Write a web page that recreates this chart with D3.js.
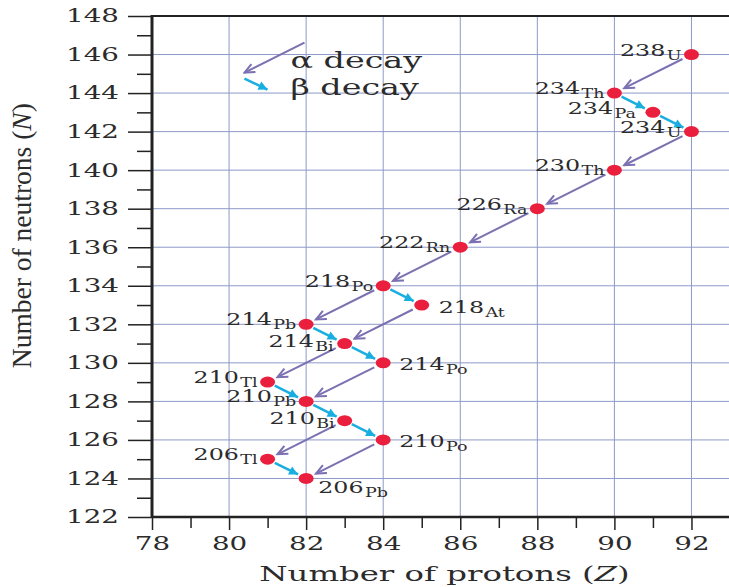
<html>
<head>
  <script src="https://d3js.org/d3.v7.min.js"></script>
  <style>
    body {
      background-color: white;
      margin: 0;
      padding: 0;
      overflow: hidden;
    }
    svg {
      display: block;
    }
  </style>
</head>
<body>
  <svg width="729" height="587"></svg>

  <script>
    // isotopes in the U-238 chain: [mass, symbol, Z, N]
    const isotopes = [
      ["238", "U", 92, 146],
      ["234", "Th", 90, 144],
      ["234", "Pa", 91, 143],
      ["234", "U", 92, 142],
      ["230", "Th", 90, 140],
      ["226", "Ra", 88, 138],
      ["222", "Rn", 86, 136],
      ["218", "Po", 84, 134],
      ["218", "At", 85, 133],
      ["214", "Pb", 82, 132],
      ["214", "Bi", 83, 131],
      ["214", "Po", 84, 130],
      ["210", "Tl", 81, 129],
      ["210", "Pb", 82, 128],
      ["210", "Bi", 83, 127],
      ["210", "Po", 84, 126],
      ["206", "Tl", 81, 125],
      ["206", "Pb", 82, 124]
    ];

    // decays, parent -> daughter
    const alphaDecays = [
      ["238U", "234Th"], ["234U", "230Th"], ["230Th", "226Ra"],
      ["226Ra", "222Rn"], ["222Rn", "218Po"], ["218Po", "214Pb"],
      ["218At", "214Bi"], ["214Bi", "210Tl"], ["214Po", "210Pb"],
      ["210Bi", "206Tl"], ["210Po", "206Pb"]
    ];
    const betaDecays = [
      ["234Th", "234Pa"], ["234Pa", "234U"], ["218Po", "218At"],
      ["214Pb", "214Bi"], ["214Bi", "214Po"], ["210Tl", "210Pb"],
      ["210Pb", "210Bi"], ["210Bi", "210Po"], ["206Tl", "206Pb"]
    ];

    const xTicks = [78, 80, 82, 84, 86, 88, 90, 92];
    const yTicks = [122, 124, 126, 128, 130, 132, 134, 136, 138, 140, 142, 144, 146, 148];

    const svg = d3.select("svg");
    const W = 729;
    const textColor = "#2b2b2b";
    const gridColor = "#8f99c9";
    const alphaColor = "#7b70b2";
    const betaColor = "#19aee0";
    const dotColor = "#ea1f3d";
    const serif = "'DejaVu Serif', serif";

    const x = d3.scaleLinear().domain([78, 93]).range([152, 730]);
    const y = d3.scaleLinear().domain([122, 148]).range([517, 16]);

    const byKey = new Map(isotopes.map(d => [d[0] + d[1], d]));

    // grid
    svg.append("g").selectAll("line")
      .data(xTicks.filter(v => v > 78))
      .enter().append("line")
      .attr("x1", d => x(d)).attr("x2", d => x(d))
      .attr("y1", y(122)).attr("y2", y(148))
      .attr("stroke", gridColor).attr("stroke-width", 1);

    svg.append("g").selectAll("line")
      .data(yTicks.filter(v => v > 122 && v < 148))
      .enter().append("line")
      .attr("x1", x(78)).attr("x2", W)
      .attr("y1", d => y(d)).attr("y2", d => y(d))
      .attr("stroke", gridColor).attr("stroke-width", 1);

    // top border
    svg.append("line")
      .attr("x1", x(78)).attr("x2", W)
      .attr("y1", y(148)).attr("y2", y(148))
      .attr("stroke", "#222").attr("stroke-width", 2);

    // axes: minor ticks every 1, major every 2
    function styleAxis(g) {
      g.select(".domain").remove();
      g.selectAll(".tick line").attr("stroke", "#222").attr("stroke-width", 1.5);
      g.selectAll("text").attr("fill", textColor)
        .style("font-family", serif).style("font-size", "18.5px");
    }

    svg.append("g")
      .attr("transform", "translate(" + x(78) + ",0)")
      .call(d3.axisLeft(y).tickValues(d3.range(123, 148, 2)).tickSize(15).tickFormat(""))
      .call(styleAxis);

    const yAx = svg.append("g")
      .attr("transform", "translate(" + x(78) + ",0)")
      .call(d3.axisLeft(y).tickValues(yTicks).tickSize(24).tickPadding(10))
      .call(styleAxis);
    yAx.selectAll("text")
      .attr("x", null)
      .attr("transform", "translate(-33,0) scale(1.5,1)");

    svg.append("g")
      .attr("transform", "translate(0," + y(122) + ")")
      .call(d3.axisBottom(x).tickValues(d3.range(79, 93, 2)).tickSize(11).tickFormat(""))
      .call(styleAxis);

    const xAx = svg.append("g")
      .attr("transform", "translate(0," + y(122) + ")")
      .call(d3.axisBottom(x).tickValues(xTicks).tickSize(13))
      .call(styleAxis);
    xAx.selectAll("text")
      .attr("y", null).attr("dy", null)
      .attr("transform", "translate(0,33) scale(1.5,1)");

    svg.append("line")
      .attr("x1", x(78)).attr("x2", W)
      .attr("y1", y(122)).attr("y2", y(122))
      .attr("stroke", "#222").attr("stroke-width", 2.5);
    svg.append("line")
      .attr("x1", x(78)).attr("x2", x(78))
      .attr("y1", y(122) + 1).attr("y2", y(148) - 1)
      .attr("stroke", "#222").attr("stroke-width", 3);

    // axis titles
    const xTitle = svg.append("text")
      .attr("transform", "translate(" + ((x(78) + W) / 2 + 4) + ",581) scale(1.54,1)")
      .attr("text-anchor", "middle")
      .attr("fill", textColor)
      .style("font-family", serif).style("font-size", "21px");
    xTitle.append("tspan").text("Number of protons (");
    xTitle.append("tspan").style("font-style", "italic").text("Z");
    xTitle.append("tspan").text(")");

    const yTitle = svg.append("text")
      .attr("transform", "translate(31," + y(136.6) + ") rotate(-90)")
      .attr("text-anchor", "middle")
      .attr("fill", textColor)
      .style("font-family", "'Liberation Serif', serif").style("font-size", "27.5px");
    yTitle.append("tspan").text("Number of neutrons (");
    yTitle.append("tspan").style("font-style", "italic").text("N");
    yTitle.append("tspan").text(")");

    // arrow markers
    const defs = svg.append("defs");
    defs.append("marker")
      .attr("id", "headA")
      .attr("viewBox", "-12 -6 14 12")
      .attr("markerUnits", "userSpaceOnUse")
      .attr("markerWidth", 14).attr("markerHeight", 12)
      .attr("refX", 0).attr("refY", 0)
      .attr("orient", "auto")
      .append("path")
      .attr("d", "M-10,-4.5L0,0L-10,4.5")
      .attr("fill", "none").attr("stroke", alphaColor).attr("stroke-width", 2);
    defs.append("marker")
      .attr("id", "headB")
      .attr("viewBox", "-10 -5 11 10")
      .attr("markerUnits", "userSpaceOnUse")
      .attr("markerWidth", 11).attr("markerHeight", 10)
      .attr("refX", 0).attr("refY", 0)
      .attr("orient", "auto")
      .append("path")
      .attr("d", "M-9,-4.5L0,0L-9,4.5Z")
      .attr("fill", betaColor);

    function arrowPoints(pair, startGap, endGap) {
      const a = byKey.get(pair[0]), b = byKey.get(pair[1]);
      const x1 = x(a[2]), y1 = y(a[3]), x2 = x(b[2]), y2 = y(b[3]);
      const len = Math.hypot(x2 - x1, y2 - y1);
      const ux = (x2 - x1) / len, uy = (y2 - y1) / len;
      return [x1 + ux * startGap, y1 + uy * startGap, x2 - ux * endGap, y2 - uy * endGap];
    }

    svg.append("g").selectAll("line")
      .data(alphaDecays)
      .enter().append("line")
      .each(function (d) {
        const p = arrowPoints(d, 10, 11);
        d3.select(this).attr("x1", p[0]).attr("y1", p[1]).attr("x2", p[2]).attr("y2", p[3]);
      })
      .attr("stroke", alphaColor).attr("stroke-width", 2)
      .attr("marker-end", "url(#headA)");

    svg.append("g").selectAll("line")
      .data(betaDecays)
      .enter().append("line")
      .each(function (d) {
        const p = arrowPoints(d, 8, 9);
        d3.select(this).attr("x1", p[0]).attr("y1", p[1]).attr("x2", p[2]).attr("y2", p[3]);
      })
      .attr("stroke", betaColor).attr("stroke-width", 2.5)
      .attr("marker-end", "url(#headB)");

    // dots
    svg.append("g").selectAll("ellipse")
      .data(isotopes)
      .enter().append("ellipse")
      .attr("cx", d => x(d[2])).attr("cy", d => y(d[3]))
      .attr("rx", 7.5).attr("ry", 5.5)
      .attr("fill", dotColor);

    // labels: most sit left of the dot, a few to the right
    const rightLabels = { "218At": [17, 8], "214Po": [16, 7], "210Po": [16, 7], "206Pb": [12, 15] };
    const leftShift = { "234Pa": [-17, 2], "214Bi": [-11, 3], "210Bi": [-10, 3] };

    const labels = svg.append("g").selectAll("g")
      .data(isotopes)
      .enter().append("g")
      .attr("transform", d => {
        const k = d[0] + d[1];
        const o = rightLabels[k] || leftShift[k] || [-10, 1];
        return "translate(" + (x(d[2]) + o[0]) + "," + (y(d[3]) + o[1]) + ") scale(1.4,1)";
      });

    const lt = labels.append("text")
      .attr("text-anchor", d => rightLabels[d[0] + d[1]] ? "start" : "end")
      .attr("fill", textColor)
      .style("font-family", serif);
    lt.append("tspan").style("font-size", "17px").text(d => d[0]);
    lt.append("tspan").attr("dy", 4).attr("dx", 1).style("font-size", "12.5px").text(d => d[1]);

    // legend
    const lg = svg.append("g").attr("transform", "translate(" + x(80.4) + "," + y(146) + ")");
    lg.append("line")
      .attr("x1", 60).attr("y1", -12).attr("x2", 0).attr("y2", 18)
      .attr("stroke", alphaColor).attr("stroke-width", 2)
      .attr("marker-end", "url(#headA)");
    lg.append("line")
      .attr("x1", 0).attr("y1", 24).attr("x2", 23).attr("y2", 35)
      .attr("stroke", betaColor).attr("stroke-width", 2.5)
      .attr("marker-end", "url(#headB)");
    lg.append("text")
      .attr("transform", "translate(46,13) scale(1.45,1)")
      .attr("fill", textColor)
      .style("font-family", serif).style("font-size", "23px")
      .text("α decay");
    lg.append("text")
      .attr("transform", "translate(46,40) scale(1.45,1)")
      .attr("fill", textColor)
      .style("font-family", serif).style("font-size", "23px")
      .text("β decay");
  </script>
</body>
</html>
